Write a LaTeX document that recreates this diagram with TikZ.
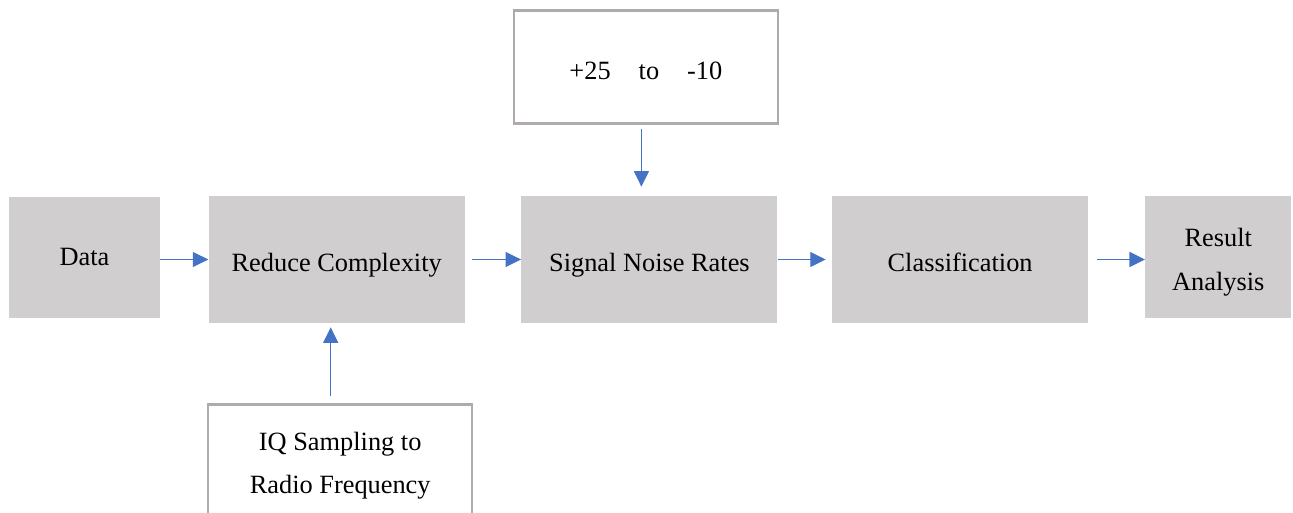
\documentclass[tikz,border=0pt]{standalone}
\usepackage{fontspec}
\setmainfont{Liberation Serif}
\usepackage{tikz}
\usetikzlibrary{arrows.meta, positioning}
\definecolor{boxfill}{HTML}{D0CECE}
\definecolor{boxline}{HTML}{AFABAB}
\definecolor{flow}{HTML}{4472C4}
\newcommand{\topgap}[1]{\rule{0pt}{#1}}
\tikzset{
    font=\fontsize{15}{25}\selectfont,
    block/.style={rectangle, fill=boxfill, align=center, minimum width=5.12cm, minimum height=2.54cm},
    input/.style={rectangle, draw=boxline, line width=1.4pt, fill=white, align=center, minimum width=5.28cm},
    textdrop/.style={execute at begin node={\topgap{#1}}, text depth=0.1cm},
    arrow/.style={-{Triangle[length=0.31cm, width=0.3cm]}, line width=0.6pt, color=flow}
}
\begin{document}
\begin{tikzpicture}[node distance=1.1cm]

    \clip (0,0) rectangle (25.86,-10.26);

    % Main chain (left to right)
    \node (data)   [block, minimum width=3.02cm, minimum height=2.42cm] at (1.69,-5.15) {Data};
    \node (reduce) [block, textdrop=0.57cm, right=0.96cm of data, yshift=-0.04cm] {Reduce Complexity};
    \node (snr)    [block, textdrop=0.57cm, right=1.12cm of reduce] {Signal Noise Rates};
    \node (class)  [block, textdrop=0.57cm, right=1.08cm of snr] {Classification};
    \node (result) [block, right=1.13cm of class, minimum width=2.92cm, minimum height=2.44cm, yshift=0.04cm] {\topgap{0.56cm}Result\\Analysis};

    % Side inputs
    \node (range)  [input, execute at begin node={\topgap{0.49cm}}, minimum height=2.26cm, above=1.42cm of snr, xshift=-0.07cm] {+25\hspace{0.56cm}to\hspace{0.56cm}-10};
    \node (iq)     [input, minimum height=2.32cm, below=1.6cm of reduce, xshift=0.07cm] {\topgap{0.49cm}IQ Sampling to\\Radio Frequency};

    % Arrows
    \draw [arrow] (data.east |- reduce) -- (reduce);
    \draw [arrow, shorten <=0.14cm] (reduce) -- (snr);
    \draw [arrow, shorten >=0.12cm] (snr) -- (class);
    \draw [arrow, shorten <=0.18cm] (class) -- (class -| result.west);
    \draw [arrow, shorten <=0.08cm, shorten >=0.18cm] ([xshift=-0.09cm]range.south) -- ([xshift=-0.09cm]range.south |- snr.north);
    \draw [arrow, shorten <=0.14cm, shorten >=0.08cm] ([xshift=-0.19cm]iq.north) -- ([xshift=-0.19cm]iq.north |- reduce.south);

\end{tikzpicture}
\end{document}
